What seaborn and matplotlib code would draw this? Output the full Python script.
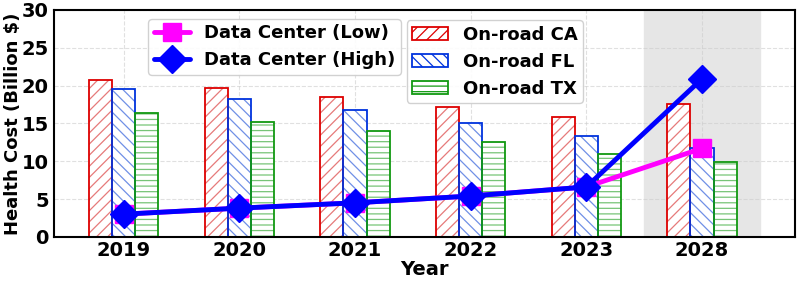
import matplotlib
matplotlib.use('Agg')
import matplotlib.pyplot as plt
from matplotlib.patches import Rectangle
import seaborn as sns
import pandas as pd

years = ['2019', '2020', '2021', '2022', '2023', '2028']
onroad_ca = [20.7, 19.7, 18.5, 17.2, 15.9, 17.5]
onroad_fl = [19.6, 18.2, 16.8, 15.1, 13.3, 11.8]
onroad_tx = [16.4, 15.2, 14.0, 12.6, 11.0, 9.9]
dc_low = [3.0, 3.8, 4.5, 5.4, 6.6, 11.7]
dc_high = [3.0, 3.8, 4.5, 5.4, 6.6, 20.9]

sns.set_style('white')
plt.rcParams['font.family'] = ['DejaVu Sans']
plt.rcParams['hatch.linewidth'] = 0.9
plt.rcParams['text.color'] = 'black'
plt.rcParams['axes.labelcolor'] = 'black'
plt.rcParams['xtick.color'] = 'black'
plt.rcParams['ytick.color'] = 'black'

bars = pd.DataFrame({
    'Year': years * 3,
    'Cost': onroad_ca + onroad_fl + onroad_tx,
    'Source': ['On-road CA'] * 6 + ['On-road FL'] * 6 + ['On-road TX'] * 6,
})
pos = list(range(len(years)))
lines = pd.DataFrame({
    'pos': pos * 2,
    'Cost': dc_low + dc_high,
    'Series': ['Data Center (Low)'] * 6 + ['Data Center (High)'] * 6,
})

fig = plt.figure(figsize=(7.97, 2.83), dpi=100)
ax = fig.add_axes([0.068, 0.163, 0.929, 0.802])

ax.axvspan(4.5, 5.5, color='#e6e6e6', zorder=0)

colors = ['#dd0000', '#0033dd', '#119911']
light = ['#e67a7a', '#7090e6', '#77c477']
hatches = ['///', '\\\\\\', '---']
sns.barplot(data=bars, x='Year', y='Cost', hue='Source', width=0.6,
            palette=colors, ax=ax, legend=False, zorder=2)

# hatch in a lighter tone, outline solid on top
bar_handles = []
for cont, c, lc, h in zip(list(ax.containers), colors, light, hatches):
    for p in cont:
        p.set_facecolor('white')
        p.set_edgecolor(lc)
        p.set_hatch(h)
        p.set_linewidth(0)
        ax.add_patch(Rectangle(p.get_xy(), p.get_width(), p.get_height(),
                               fill=False, edgecolor=c, lw=1.3, zorder=2.5))
    bar_handles.append(Rectangle((0, 0), 1, 1, facecolor='white', edgecolor=c,
                                 hatch=h, lw=1.3))

low = lines[lines.Series == 'Data Center (Low)']
high = lines[lines.Series == 'Data Center (High)']
l1, = ax.plot(low.pos, low.Cost, color='#ff00ff', lw=3.5, marker='s',
              markersize=13, zorder=4, label='Data Center (Low)')
l2, = ax.plot(high.pos, high.Cost, color='#0000ff', lw=3.5, marker='D',
              markersize=14, zorder=5, label='Data Center (High)')

ax.set_xlim(-0.6, 5.8)
ax.set_ylim(0, 30)
ax.set_yticks([0, 5, 10, 15, 20, 25, 30])
ax.grid(True, linestyle='--', color='#cccccc', alpha=0.6, zorder=1)
ax.set_axisbelow(True)

for s in ax.spines.values():
    s.set_color('black')
    s.set_linewidth(1.5)

ax.tick_params(axis='both', labelsize=14, length=3, width=1, pad=1, direction='out')
ax.tick_params(axis='x', length=0, pad=3)
for t in ax.get_xticklabels() + ax.get_yticklabels():
    t.set_fontweight('bold')
ax.set_xlabel('Year', fontsize=14, fontweight='bold', labelpad=0)
ax.set_ylabel('Health Cost (Billion $)', fontsize=13, fontweight='bold')
ax.yaxis.set_label_coords(-0.043, 0.5)

leg1 = ax.legend(handles=[l1, l2], loc='upper left', bbox_to_anchor=(0.127, 0.96),
                 prop={'weight': 'bold', 'size': 13}, handlelength=2.0,
                 borderaxespad=0, framealpha=0.9, borderpad=0.3)
ax.add_artist(leg1)
ax.legend(handles=bar_handles, labels=['On-road CA', 'On-road FL', 'On-road TX'],
          loc='upper left', bbox_to_anchor=(0.476, 0.955),
          prop={'weight': 'bold', 'size': 13}, handlelength=2.0,
          borderaxespad=0, framealpha=0.9, borderpad=0.3)

fig.savefig('out.png', dpi=100)
